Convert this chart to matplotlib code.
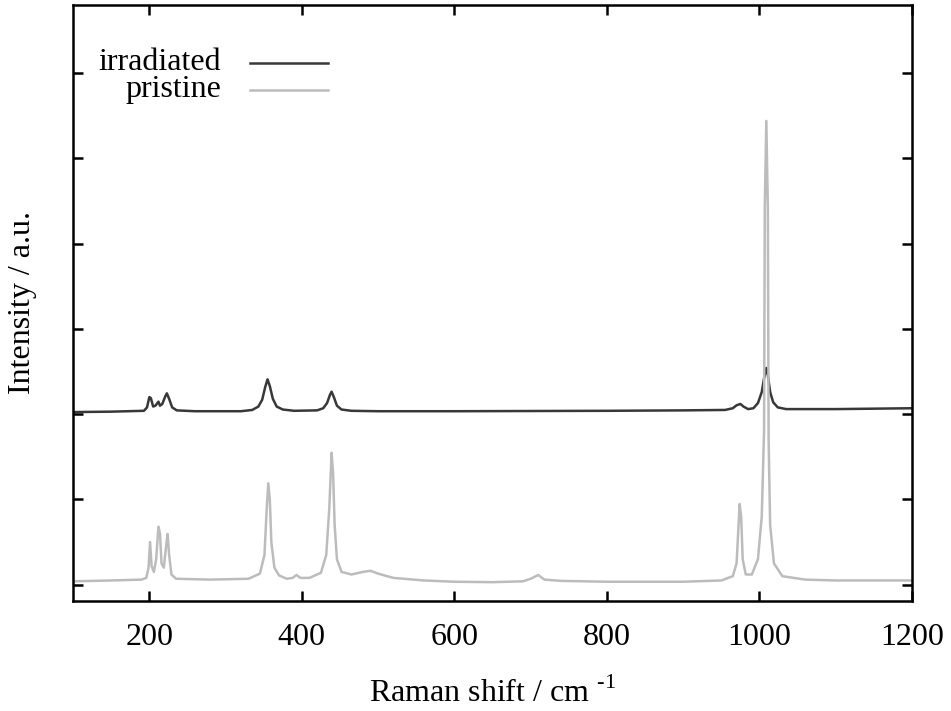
import matplotlib
matplotlib.use("Agg")
import matplotlib.pyplot as plt

# Raman spectra (counts, arbitrary units)
wn_pristine = [100, 150, 190, 196, 199, 201, 203, 206, 209, 212, 214, 216, 219, 222, 224, 226,
               229, 235, 280, 330, 345, 351, 354, 356, 358, 360, 364, 370, 380, 388, 393, 398,
               410, 425, 432, 436, 439, 441, 443, 446, 452, 465, 480, 490, 500, 520, 560, 600,
               650, 690, 700, 710, 718, 740, 800, 900, 950, 965, 970, 974, 976, 978, 982, 990,
               998, 1003, 1006, 1007, 1009, 1011, 1012, 1014, 1019, 1030, 1060, 1100, 1150, 1200]
int_pristine = [40, 50, 60, 80, 200, 500, 220, 150, 300, 680, 600, 250, 200, 450, 595, 350,
                120, 70, 60, 70, 130, 350, 900, 1190, 1000, 500, 200, 110, 70, 80, 114, 80,
                80, 140, 350, 900, 1548, 1300, 700, 300, 150, 120, 150, 164, 130, 80, 50, 35,
                30, 40, 70, 114, 60, 45, 35, 35, 50, 100, 250, 947, 800, 300, 120, 120,
                300, 800, 1800, 4440, 5440, 4400, 1700, 700, 250, 100, 60, 50, 50, 50]

wn_irradiated = [100, 150, 193, 197, 200, 202, 205, 208, 212, 214, 217, 221, 223, 226, 230, 236,
                 260, 320, 335, 343, 348, 352, 355, 358, 362, 367, 375, 390, 420, 428, 433, 437,
                 439, 442, 446, 452, 465, 500, 600, 800, 900, 955, 965, 970, 975, 979, 985, 992,
                 998, 1003, 1006, 1009, 1011, 1014, 1018, 1024, 1035, 1100, 1200]
int_irradiated = [2025, 2030, 2040, 2080, 2200, 2190, 2090, 2100, 2147, 2100, 2120, 2210, 2245, 2180, 2080, 2045,
                  2035, 2035, 2050, 2090, 2170, 2320, 2409, 2330, 2180, 2090, 2055, 2040, 2045, 2070, 2130, 2230,
                  2264, 2200, 2100, 2055, 2040, 2035, 2035, 2040, 2045, 2050, 2070, 2105, 2120, 2090, 2060, 2070,
                  2130, 2260, 2420, 2542, 2460, 2260, 2140, 2080, 2060, 2060, 2070]

labels = ["irradiated", "pristine"]
colors = ["#383838", "#bcbcbc"]

plt.rcParams["font.family"] = ["Liberation Serif", "DejaVu Serif"]
plt.rcParams["mathtext.fontset"] = "custom"
plt.rcParams["mathtext.rm"] = "Liberation Serif"

fig = plt.figure(figsize=(9.51, 7.11), dpi=100)
ax = fig.add_axes([0.0768, 0.1547, 0.8822, 0.8383])

ax.plot(wn_irradiated, int_irradiated, color=colors[0], lw=1.8)
ax.plot(wn_pristine, int_pristine, color=colors[1], lw=1.8)

ax.set_xlim(100, 1200)
ax.set_ylim(-191, 6800)
ax.set_xticks([200, 400, 600, 800, 1000, 1200])
ax.set_yticks([0, 1000, 2000, 3000, 4000, 5000, 6000])
ax.set_yticklabels([])
ax.tick_params(direction="in", length=7, width=1.8, top=True, right=True,
               labelsize=23, pad=16)
for s in ax.spines.values():
    s.set_linewidth(1.8)

ax.set_xlabel("Raman shift / cm $^{\\text{-1}}$", fontsize=23, labelpad=18)
ax.set_ylabel("Intensity / a.u.", fontsize=23)
ax.yaxis.set_label_coords(-0.043, 0.5)

# gnuplot style key: right aligned text, sample line after it
tx = (221 - 73) / 839
lx0 = (250 - 73) / 839
lx1 = (328 - 73) / 839
for i, (lab, col) in enumerate(zip(labels, colors)):
    yy = 1 - (63 - 5 + 27 * i) / 596
    ax.text(tx, yy, lab, transform=ax.transAxes, ha="right", va="center", fontsize=23)
    ax.plot([lx0, lx1], [yy, yy], transform=ax.transAxes, color=col, lw=1.8)

fig.savefig("out.png", dpi=100)
